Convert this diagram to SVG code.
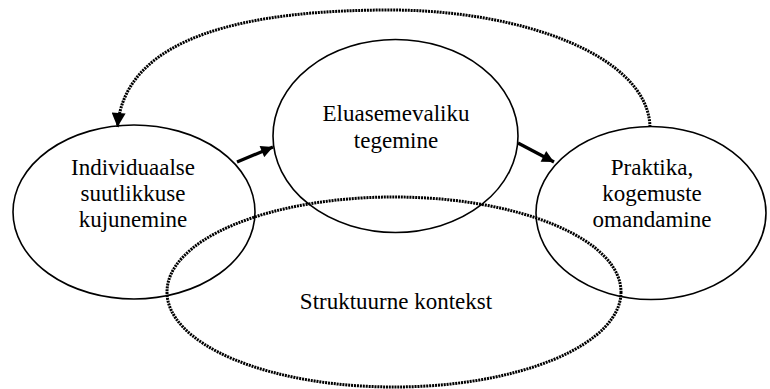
<svg xmlns="http://www.w3.org/2000/svg" width="770" height="389" viewBox="0 0 770 389">
<style>
.n{fill:none;stroke:#000;stroke-width:1.6}
.d{fill:none;stroke:#000;stroke-width:3;stroke-dasharray:2 0.9}
.t{font-family:'Liberation Serif','Tinos','Times New Roman','DejaVu Serif',serif;font-size:23px;fill:#000;text-anchor:middle}
.a{fill:none;stroke:#000;stroke-width:3.2}
</style>
<defs>
<marker id="ah" viewBox="0 0 10 10" refX="10" refY="5" markerWidth="15" markerHeight="12" markerUnits="userSpaceOnUse" orient="auto">
<path d="M0,0 L10,5 L0,10 Z" fill="#000"/>
</marker>
<marker id="ahd" viewBox="0 0 10 10" refX="10" refY="5" markerWidth="15" markerHeight="14" markerUnits="userSpaceOnUse" orient="auto">
<path d="M0,0 L10,5 L0,10 Z" fill="#000"/>
</marker>
</defs>
<g id="kontekst">
<ellipse class="d" cx="394" cy="292" rx="227" ry="95"/>
<text class="t" x="396" y="309">Struktuurne kontekst</text>
</g>
<g id="individuaalse">
<ellipse class="n" cx="134" cy="212" rx="121" ry="87"/>
<text class="t" x="133" y="175">Individuaalse</text>
<text class="t" x="133" y="201">suutlikkuse</text>
<text class="t" x="133" y="227">kujunemine</text>
</g>
<g id="eluasemevaliku">
<ellipse class="n" cx="395.5" cy="136" rx="122.5" ry="96.5"/>
<text class="t" x="396" y="121">Eluasemevaliku</text>
<text class="t" x="396" y="148">tegemine</text>
</g>
<g id="praktika">
<ellipse class="n" cx="651" cy="213" rx="115" ry="86.5"/>
<text class="t" x="652" y="175">Praktika,</text>
<text class="t" x="652" y="201">kogemuste</text>
<text class="t" x="652" y="227">omandamine</text>
</g>
<g id="connectors">
<line class="a" x1="237" y1="162" x2="273" y2="147" marker-end="url(#ah)"/>
<line class="a" x1="518" y1="143" x2="554" y2="162" marker-end="url(#ah)"/>
<path class="d" d="M650,127 C648,55 520,10 390,10 C250,10 125,35 117.5,127" marker-end="url(#ahd)"/>
</g>
</svg>
